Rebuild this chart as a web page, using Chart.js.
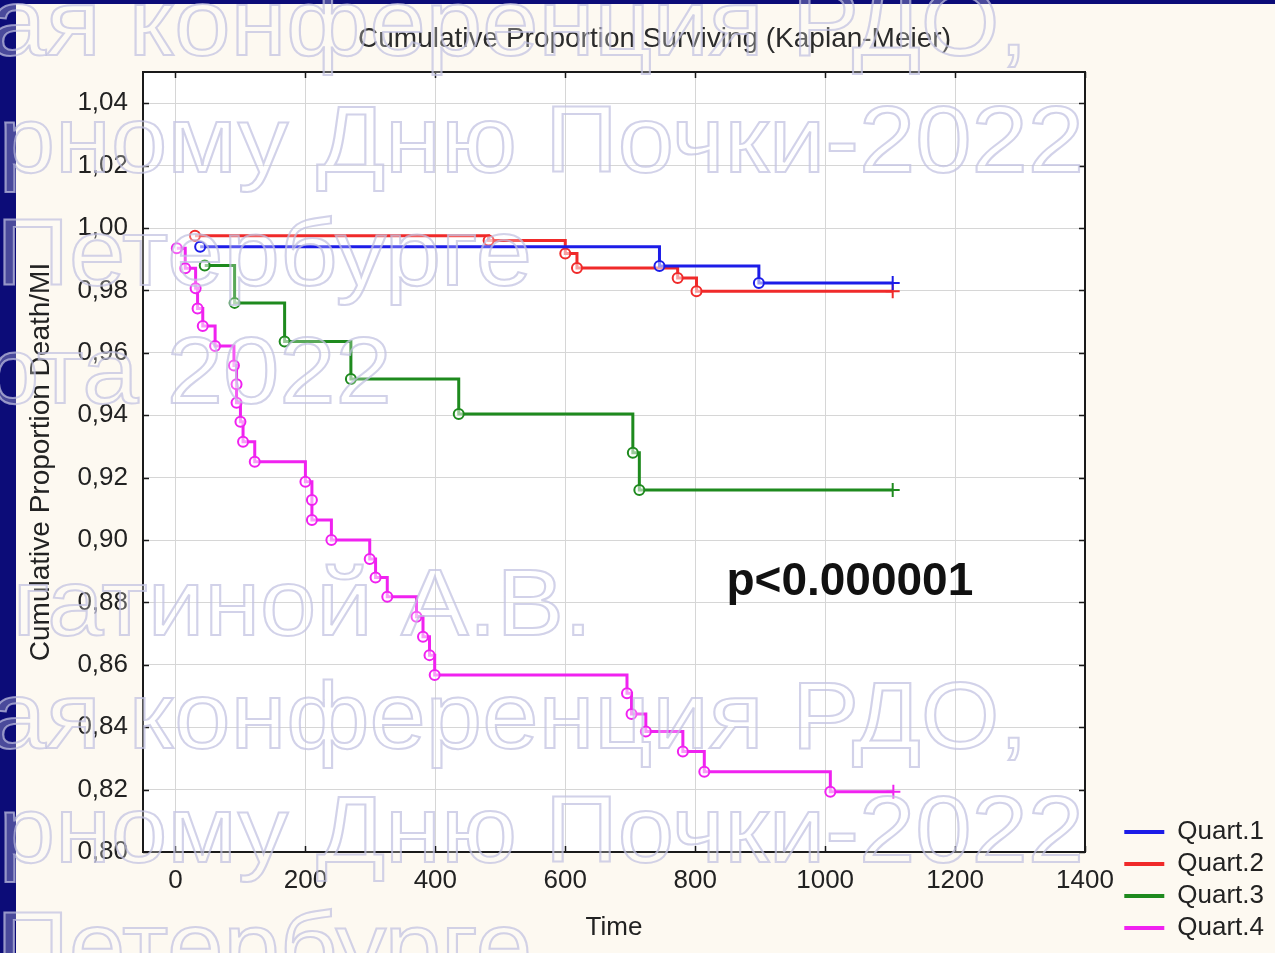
<!DOCTYPE html>
<html>
<head>
<meta charset="utf-8">
<script src="https://cdn.jsdelivr.net/npm/chart.js@4.4.1/dist/chart.umd.min.js"></script>
<style>
html,body{margin:0;padding:0;}
body{width:1275px;height:953px;overflow:hidden;background:#fdf9f1;position:relative;font-family:"Liberation Sans",Arial,sans-serif;}
#navyL{position:absolute;left:0;top:0;width:16px;height:953px;background:#0c0c78;}
#navyT{position:absolute;left:0;top:0;width:1275px;height:4px;background:#0c0c78;}
#wrap{position:absolute;left:0;top:0;width:1275px;height:953px;}
#wm{position:absolute;left:0;top:0;width:1275px;height:953px;overflow:hidden;pointer-events:none;}
.wm{position:absolute;white-space:pre;font:95px/95px "Liberation Sans",Arial,sans-serif;color:rgba(255,255,255,0.26);-webkit-text-stroke:2px rgba(192,192,224,0.72);transform-origin:100% 50%;transform:scaleX(1.065);}
</style>
</head>
<body>
<div id="navyL"></div>
<div id="navyT"></div>
<div id="wrap"><canvas id="c" width="1275" height="953"></canvas></div>
<div id="wm"></div>
<script>
// ---------------- data ----------------
const seriesNames = ['Quart.1', 'Quart.2', 'Quart.3', 'Quart.4'];

const q1Time = [38, 745, 898, 1104];
const q1Surv = [0.9940, 0.9878, 0.9824, 0.9824];

const q2Time = [30, 482, 600, 618, 773, 802, 1104];
const q2Surv = [0.9975, 0.9960, 0.9918, 0.9872, 0.9840, 0.9797, 0.9797];

const q3Time = [45, 91, 168, 270, 436, 704, 714, 1104];
const q3Surv = [0.9880, 0.9760, 0.9636, 0.9516, 0.9404, 0.9280, 0.9160, 0.9160];

const q4Time = [2, 15, 31, 34, 42, 61, 90, 94, 94, 100, 104, 122,
                200, 210, 210, 240, 299, 308, 326, 371, 381, 391, 399,
                695, 702, 724, 781, 814, 1008, 1105];
const q4Surv = [0.9935, 0.9871, 0.9807, 0.9742, 0.9686, 0.9622, 0.9559, 0.9499, 0.9440, 0.9379, 0.9315, 0.9251,
                0.9187, 0.9128, 0.9064, 0.9000, 0.8939, 0.8880, 0.8818, 0.8754, 0.8690, 0.8631, 0.8567,
                0.8509, 0.8442, 0.8386, 0.8322, 0.8257, 0.8193, 0.8193];

const xTickValues = [0, 200, 400, 600, 800, 1000, 1200, 1400];
const yTickValues = [0.80, 0.82, 0.84, 0.86, 0.88, 0.90, 0.92, 0.94, 0.96, 0.98, 1.00, 1.02, 1.04];

const chartTitle = 'Cumulative Proportion Surviving (Kaplan-Meier)';
const xTitle = 'Time';
const yTitle = 'Cumulative Proportion Death/MI';
const pValueText = 'p<0.000001';
const pValueAt = {x: 1038, y: 0.8865};

const watermarkLines = [
  'ая конференция РДО,',
  'рному Дню Почки-2022',
  'Петербурге',
  'рта 2022',
  'гатиной А.В.',
  'ая конференция РДО,',
  'рному Дню Почки-2022',
  'Петербурге'
];

// ---------------- styling / layout ----------------
const colors = ['#1c1ce8', '#f02a2a', '#1e8a1e', '#f022f0'];
const FONT = '"Liberation Sans", Arial, sans-serif';
const PAD_L = 35, PAD_R = 1, PAD_B = 6;
const PLOT_LEFT = 143, PLOT_RIGHT = 1085, PLOT_BOTTOM = 852;
const wmRightEdge = [1028, 1084, 532, 392, 592, 1028, 1084, 532];
const wmBaseline = [55, 172, 285, 403, 635, 748, 862, 978];

Chart.defaults.font.family = FONT;
Chart.defaults.color = '#222';

function zip(t, s) { return t.map((v, i) => ({x: v, y: s[i]})); }
const seriesData = [zip(q1Time, q1Surv), zip(q2Time, q2Surv), zip(q3Time, q3Surv), zip(q4Time, q4Surv)];

const datasets = seriesData.map((d, i) => ({
  label: seriesNames[i],
  data: d,
  borderColor: colors[i],
  backgroundColor: colors[i],
  borderWidth: 3,
  stepped: 'before',
  fill: false,
  pointStyle: (ctx) => ctx.dataIndex === d.length - 1 ? 'cross' : 'circle',
  pointRadius: (ctx) => ctx.dataIndex === d.length - 1 ? 7 : 5,
  pointBorderWidth: 2,
  pointBorderColor: colors[i],
  pointBackgroundColor: 'rgba(255,255,255,0.55)',
  pointHoverRadius: 5
}));

const gridColor = '#d6d6d6';

const framePlugin = {
  id: 'frame',
  beforeDraw(chart) {
    const {ctx, chartArea: a} = chart;
    ctx.save();
    ctx.fillStyle = '#ffffff';
    ctx.fillRect(a.left, a.top, a.right - a.left, a.bottom - a.top);
    ctx.restore();
  },
  afterDatasetsDraw(chart) {
    const {ctx, scales} = chart;
    ctx.save();
    ctx.font = 'bold 46px ' + FONT;
    ctx.fillStyle = '#111';
    ctx.textAlign = 'center';
    ctx.textBaseline = 'middle';
    ctx.fillText(pValueText, scales.x.getPixelForValue(pValueAt.x), scales.y.getPixelForValue(pValueAt.y));
    ctx.restore();
  },
  afterDraw(chart) {
    const {ctx, chartArea: a, scales} = chart;
    ctx.save();
    ctx.strokeStyle = '#1a1a1a';
    ctx.lineWidth = 2;
    ctx.strokeRect(a.left, a.top, a.right - a.left, a.bottom - a.top);
    ctx.lineWidth = 1.5;
    ctx.beginPath();
    const tl = 6;
    scales.x.ticks.forEach(t => {
      const px = Math.round(scales.x.getPixelForValue(t.value)) + 0.5;
      ctx.moveTo(px, a.top); ctx.lineTo(px, a.top + tl);
      ctx.moveTo(px, a.bottom); ctx.lineTo(px, a.bottom - tl);
    });
    scales.y.ticks.forEach(t => {
      const py = Math.round(scales.y.getPixelForValue(t.value)) + 0.5;
      ctx.moveTo(a.left, py); ctx.lineTo(a.left + tl, py);
      ctx.moveTo(a.right, py); ctx.lineTo(a.right - tl, py);
    });
    ctx.stroke();
    ctx.restore();
  }
};

const chart = new Chart(document.getElementById('c'), {
  type: 'line',
  data: {datasets},
  plugins: [framePlugin],
  options: {
    responsive: false,
    animation: false,
    devicePixelRatio: 1,
    layout: {padding: {left: PAD_L, right: PAD_R, top: 0, bottom: PAD_B}},
    plugins: {
      title: {
        display: true,
        text: chartTitle,
        color: '#2b2b2b',
        font: {size: 28, weight: 'normal', family: FONT},
        padding: {top: 22, bottom: 16.4}
      },
      legend: {
        display: true,
        position: 'right',
        align: 'end',
        labels: {
          boxWidth: 40,
          boxHeight: 4,
          padding: 6,
          color: '#222',
          font: {size: 26, family: FONT},
          generateLabels: (ch) => ch.data.datasets.map((ds, i) => ({
            text: ds.label,
            fillStyle: ds.borderColor,
            strokeStyle: ds.borderColor,
            lineWidth: 0,
            hidden: false,
            datasetIndex: i,
            fontColor: '#222'
          }))
        }
      },
      tooltip: {enabled: false}
    },
    scales: {
      x: {
        type: 'linear',
        min: -50,
        max: 1400,
        afterBuildTicks: (s) => { s.ticks = xTickValues.map(v => ({value: v})); },
        afterFit: (s) => { s.height = s.chart.height - PAD_B - PLOT_BOTTOM; },
        ticks: {
          font: {size: 26, family: FONT},
          color: '#222',
          padding: 13,
          maxRotation: 0,
          autoSkip: false,
          callback: (v) => String(v)
        },
        grid: {color: gridColor, lineWidth: 1, drawTicks: false},
        border: {display: false},
        title: {display: true, text: xTitle, color: '#222', font: {size: 26, family: FONT}, padding: {top: 0, bottom: 4}}
      },
      y: {
        type: 'linear',
        position: 'left',
        min: 0.80,
        max: 1.05,
        afterBuildTicks: (s) => { s.ticks = yTickValues.map(v => ({value: v})); },
        afterFit: (s) => { s.width = PLOT_LEFT - PAD_L; },
        ticks: {
          font: {size: 26, family: FONT},
          color: '#222',
          padding: 15,
          autoSkip: false,
          callback: (v) => Number(v).toFixed(2).replace('.', ',')
        },
        grid: {color: gridColor, lineWidth: 1, drawTicks: false},
        border: {display: false},
        title: {display: true, text: yTitle, color: '#222', font: {size: 28, family: FONT}, padding: {top: -11, bottom: 0}}
      },
      y2: {
        type: 'linear',
        position: 'right',
        min: 0.80,
        max: 1.05,
        display: true,
        afterFit: (s) => {
          const lg = s.chart.legend;
          const lw = lg && lg.width ? lg.width : 155;
          s.width = Math.max(0, s.chart.width - PAD_R - lw - PLOT_RIGHT);
        },
        ticks: {display: false},
        grid: {display: false, drawTicks: false},
        border: {display: false},
        title: {display: false}
      }
    }
  }
});

// watermark overlay (text of the slide behind the picture)
const wm = document.getElementById('wm');
watermarkLines.forEach((txt, i) => {
  const el = document.createElement('div');
  el.className = 'wm';
  el.textContent = txt;
  wm.appendChild(el);
  const w = el.offsetWidth;
  el.style.left = (wmRightEdge[i] - w) + 'px';
  el.style.top = (wmBaseline[i] - 80) + 'px';
});
</script>
</body>
</html>
